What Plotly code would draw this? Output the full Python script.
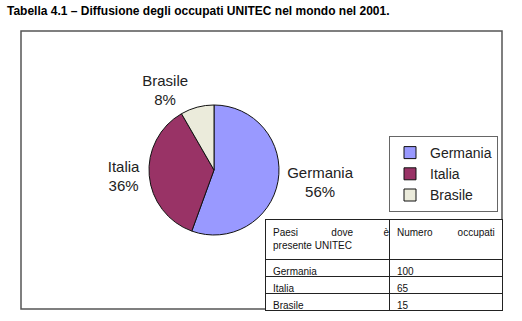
import plotly.graph_objects as go

title = "Tabella 4.1 – Diffusione degli occupati UNITEC nel mondo nel 2001."
paesi = ["Germania", "Italia", "Brasile"]
occupati = [100, 65, 15]
colori = ["#9999FF", "#993366", "#EBEBDB"]
header_labels = ["Paesi&nbsp;&nbsp;&nbsp;&nbsp;&nbsp;&nbsp;&nbsp;&nbsp;&nbsp;&nbsp;&nbsp;&nbsp;dove&nbsp;&nbsp;&nbsp;&nbsp;&nbsp;&nbsp;&nbsp;&nbsp;&nbsp;&nbsp;&nbsp;è<br>presente UNITEC",
                 "Numero&nbsp;&nbsp;&nbsp;&nbsp;&nbsp;&nbsp;&nbsp;&nbsp;&nbsp;occupati"]

W, H = 522, 321

fig = go.Figure()

fig.add_trace(go.Pie(
    labels=paesi, values=occupati, sort=False, direction="clockwise", rotation=0,
    marker=dict(colors=colori, line=dict(color="#111", width=1)),
    texttemplate="%{label}<br>%{percent:.0%}", textposition="outside",
    textfont=dict(family="Liberation Sans, Arial", size=15, color="#222"),
    domain=dict(x=[149 / W, 279 / W], y=[1 - 235 / H, 1 - 105 / H]),
    showlegend=True, hoverinfo="skip",
))

fig.add_trace(go.Table(
    domain=dict(x=[265 / W, 502 / W], y=[1 - 312 / H, 1 - 219 / H]),
    columnwidth=[124, 113],
    header=dict(values=header_labels, align="left", height=33,
                line=dict(color="#222", width=1), fill=dict(color="white"),
                font=dict(family="Liberation Sans, Arial", size=10, color="#111")),
    cells=dict(values=[paesi, occupati], align="left", height=17,
               line=dict(color="#222", width=1), fill=dict(color="white"),
               font=dict(family="Liberation Sans, Arial", size=10, color="#111")),
))

fig.add_shape(type="rect", xref="paper", yref="paper",
              x0=21 / W, x1=502 / W, y0=1 - 309 / H, y1=1 - 31 / H,
              line=dict(color="#555", width=1.5), layer="below")

fig.add_annotation(text="<b>" + title + "</b>", xref="paper", yref="paper",
                   x=5 / W, y=1 - 11 / H, xanchor="left", yanchor="middle",
                   showarrow=False,
                   font=dict(family="Liberation Sans, Arial", size=12, color="#000"))

fig.update_layout(
    width=W, height=H, margin=dict(l=0, r=0, t=0, b=0),
    paper_bgcolor="white", plot_bgcolor="white",
    legend=dict(x=498 / W, y=1 - 136 / H, xanchor="right", yanchor="top",
                itemwidth=30, tracegroupgap=0,
                bordercolor="#666", borderwidth=1, bgcolor="white",
                font=dict(family="Liberation Sans, Arial", size=14, color="#222")),
)

fig.write_html("out.html")
